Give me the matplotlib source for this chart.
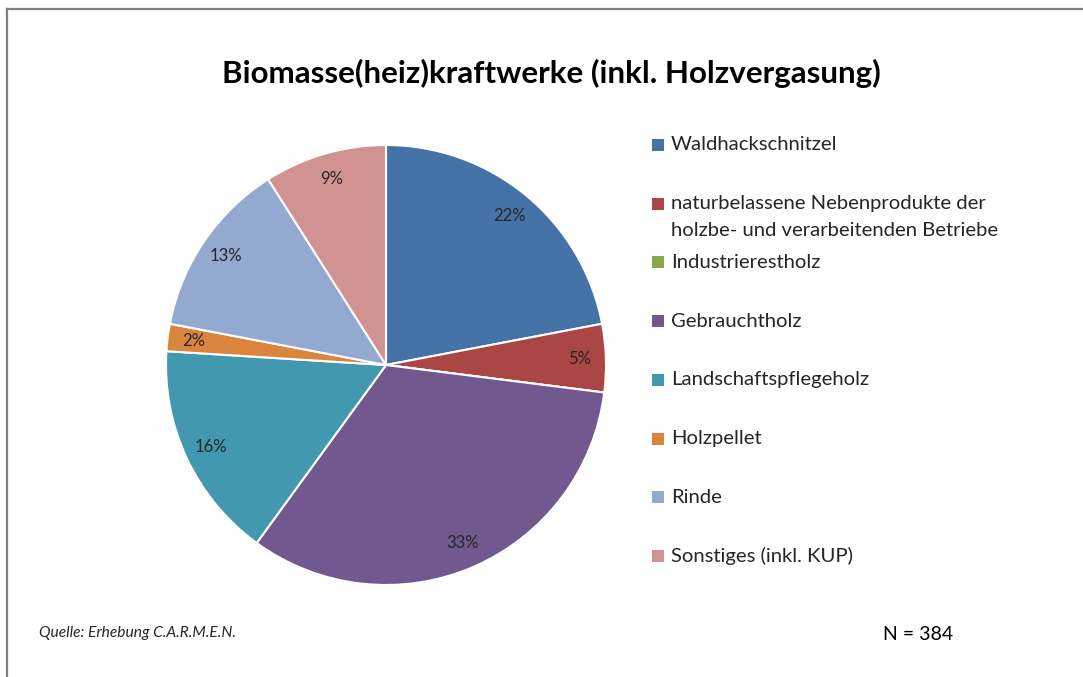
import matplotlib
matplotlib.use("Agg")
import matplotlib.pyplot as plt
from matplotlib.patches import Rectangle
from matplotlib.lines import Line2D
import numpy as np

plt.rcParams["font.family"] = ["Lato", "DejaVu Sans"]

categories = [
    "Waldhackschnitzel",
    "naturbelassene Nebenprodukte der\nholzbe- und verarbeitenden Betriebe",
    "Industrierestholz",
    "Gebrauchtholz",
    "Landschaftspflegeholz",
    "Holzpellet",
    "Rinde",
    "Sonstiges (inkl. KUP)",
]
shares = [22, 5, 0, 33, 16, 2, 13, 9]
colors = ["#4572A7", "#AA4643", "#89A54E", "#71588F",
          "#4198AF", "#DB843D", "#93A9CF", "#D19392"]

title = "Biomasse(heiz)kraftwerke (inkl. Holzvergasung)"
source = "Quelle: Erhebung C.A.R.M.E.N."
sample = "N = 384"

W, H = 1083, 677
fig = plt.figure(figsize=(W / 100, H / 100), dpi=100)
fig.patch.set_facecolor("white")

# frame lines along top and left edge
fig.add_artist(Line2D([7 / W, 1], [1 - 9 / H, 1 - 9 / H], color="#7f7f7f", lw=1.6))
fig.add_artist(Line2D([7 / W, 7 / W], [0, 1 - 9 / H], color="#7f7f7f", lw=1.6))

cx, cy, r = 386, 365, 220
ax = fig.add_axes([(cx - r) / W, (H - cy - r) / H, 2 * r / W, 2 * r / H])
wedges, _ = ax.pie(
    shares, colors=colors, startangle=90, counterclock=False, radius=1,
    wedgeprops=dict(edgecolor="white", linewidth=1.5),
)
ax.set_xlim(-1, 1)
ax.set_ylim(-1, 1)
ax.set_aspect("equal")
ax.axis("off")

# percentage labels inside the wedges
total = sum(shares)
angle = 90.0
for v in shares:
    span = 360.0 * v / total
    mid = np.deg2rad(angle - span / 2)
    angle -= span
    if v == 0:
        continue
    d = 0.88
    ax.text(d * np.cos(mid), d * np.sin(mid), f"{v}%", ha="center", va="center",
            fontsize=12, color="#262626")

fig.text(551 / W, 1 - 73 / H, title, ha="center", va="center",
         fontsize=22.6, fontweight="bold", color="black")

# legend: colour square plus label, one entry per category
y0, step, line_gap = 145, 58.7, 27
for i, (lab, col) in enumerate(zip(categories, colors)):
    y = y0 + i * step
    fig.add_artist(Rectangle((652 / W, 1 - (y + 6) / H), 12 / W, 12 / H,
                             transform=fig.transFigure, facecolor=col,
                             edgecolor="none"))
    for k, line in enumerate(lab.split("\n")):
        fig.text(671 / W, 1 - (y + k * line_gap) / H, line, ha="left",
                 va="center", fontsize=14.6, color="#262626")

fig.text(39 / W, 1 - 633 / H, source, ha="left", va="center",
         fontsize=11.2, style="italic", color="#262626")
fig.text(883 / W, 1 - 634 / H, sample, ha="left", va="center",
         fontsize=14, color="black")

fig.savefig("out.png", dpi=100)
